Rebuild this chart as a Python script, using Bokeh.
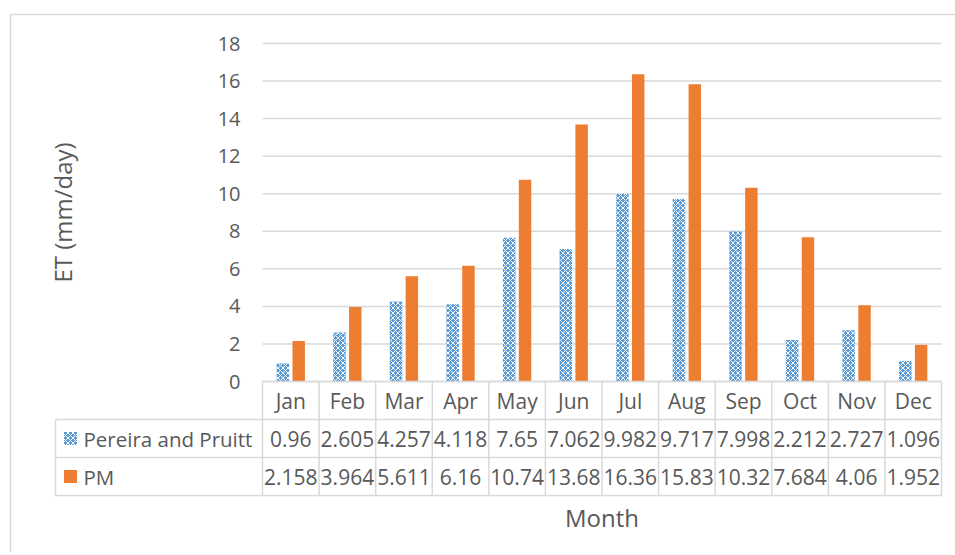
import math
from bokeh.plotting import figure
from bokeh.models import Range1d
from bokeh.core.properties import value
from bokeh.embed import file_html
from bokeh.resources import INLINE

# ---------------- data ----------------
months = ["Jan", "Feb", "Mar", "Apr", "May", "Jun", "Jul", "Aug", "Sep", "Oct", "Nov", "Dec"]
pereira = [0.96, 2.605, 4.257, 4.118, 7.65, 7.062, 9.982, 9.717, 7.998, 2.212, 2.727, 1.096]
pm = [2.158, 3.964, 5.611, 6.16, 10.74, 13.68, 16.36, 15.83, 10.32, 7.684, 4.06, 1.952]
series_names = ["Pereira and Pruitt", "PM"]
y_ticks = [0, 2, 4, 6, 8, 10, 12, 14, 16, 18]
y_title = "ET (mm/day)"
x_title = "Month"

# ---------------- style / layout ----------------
BLUE = "#5B9BD5"
ORANGE = "#ED7D31"
TXT = "#595959"
GRID = "#d9d9d9"
FONT = value("Open Sans")
HATCH = dict(hatch_pattern="diagonal_cross", hatch_color="white", hatch_scale=5, hatch_weight=1)

W, H = 955, 552
PLOT_L, PLOT_R, PLOT_T, PLOT_B = 262, 941, 43, 381     # plot area, canvas px
Y_MAX = 18.0
n = len(months)
PXX = (PLOT_R - PLOT_L) / n
PXY = (PLOT_B - PLOT_T) / Y_MAX


def dx(cx):
    return (cx - PLOT_L) / PXX


def dy(cy):
    return (PLOT_B - cy) / PXY


p = figure(width=W, height=H, x_range=Range1d(dx(0), dx(W)), y_range=Range1d(dy(H), dy(0)),
           x_axis_location=None, y_axis_location=None, min_border=0,
           output_backend="svg", toolbar_location=None)
p.outline_line_color = None
p.background_fill_color = "white"
p.border_fill_color = "white"
for g in p.grid:
    g.visible = False

# outer chart border (left & top visible)
p.segment(x0=[dx(10), dx(10)], y0=[dy(14), dy(14)], x1=[dx(10), dx(W + 5)], y1=[dy(H + 5), dy(14)],
          line_color=GRID, line_width=1.5)

# horizontal gridlines at the y ticks
p.segment(x0=[0] * len(y_ticks), y0=y_ticks, x1=[n] * len(y_ticks), y1=y_ticks,
          line_color=GRID, line_width=1.5)

# y tick labels and axis title
p.text(x=[dx(240)] * len(y_ticks), y=y_ticks, text=[str(t) for t in y_ticks],
       text_font=FONT, text_font_size="20px", text_color=TXT,
       text_align="right", text_baseline="middle")
p.text(x=[dx(62)], y=[Y_MAX / 2], text=[y_title], angle=math.pi / 2,
       text_font=FONT, text_font_size="24px", text_color=TXT,
       text_align="center", text_baseline="middle")

# bars
off, bw = 0.14, 0.22
xs = [i + 0.5 for i in range(n)]
p.vbar(x=[x - off for x in xs], top=pereira, width=bw, fill_color=BLUE, line_color=None, **HATCH)
p.vbar(x=[x + off for x in xs], top=pm, width=bw, fill_color=ORANGE, line_color=None)

# ---------------- data table ----------------
ROWS = [381, 419, 457, 495]     # canvas px: header top, row1 top, row2 top, bottom
TBL_L = 55                      # legend column left edge
ys = [dy(r) for r in ROWS]

# vertical column lines
p.segment(x0=list(range(n + 1)), y0=[ys[0]] * (n + 1), x1=list(range(n + 1)), y1=[ys[3]] * (n + 1),
          line_color=GRID, line_width=1.5)
p.segment(x0=[dx(TBL_L)], y0=[ys[1]], x1=[dx(TBL_L)], y1=[ys[3]], line_color=GRID, line_width=1.5)
# horizontal row lines
p.segment(x0=[0, dx(TBL_L), dx(TBL_L), dx(TBL_L)], y0=ys, x1=[n] * 4, y1=ys,
          line_color=GRID, line_width=1.5)

# header: month names
p.text(x=xs, y=[dy(400)] * n, text=months, text_font=FONT, text_font_size="21px",
       text_color=TXT, text_align="center", text_baseline="middle")

# rows: legend key, series name, values
row_cy = [438, 476]
for r, (name, col, vals) in enumerate(zip(series_names, [BLUE, ORANGE], [pereira, pm])):
    cy = row_cy[r]
    kw = HATCH if r == 0 else {}
    p.quad(left=[dx(TBL_L + 8.5)], right=[dx(TBL_L + 21.5)], top=[dy(cy - 6.5)], bottom=[dy(cy + 6.5)],
           fill_color=col, line_color=None, **kw)
    p.text(x=[dx(TBL_L + 28)], y=[dy(cy)], text=[name], text_font=FONT, text_font_size="20.5px",
           text_color=TXT, text_align="left", text_baseline="middle")
    p.text(x=xs, y=[dy(cy)] * n, text=[f"{v:g}" for v in vals], text_font=FONT,
           text_font_size="21px", text_color=TXT, text_align="center", text_baseline="middle")

# x axis title
p.text(x=[n / 2], y=[dy(517)], text=[x_title], text_font=FONT, text_font_size="24px",
       text_color=TXT, text_align="center", text_baseline="middle")

open("out.html", "w").write(file_html(p, INLINE))
